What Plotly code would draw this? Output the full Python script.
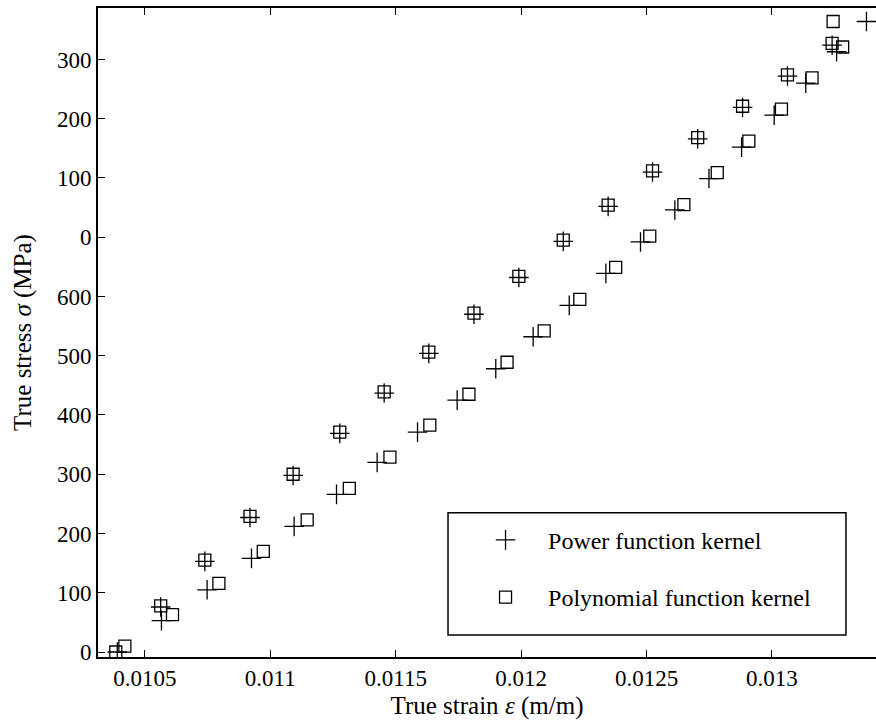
import plotly.graph_objects as go

# Power function kernel: loading branch then the lower branch (strain, stress in MPa)
power_strain = [
    0.010390, 0.010563, 0.010739, 0.010919, 0.011091, 0.011277, 0.011454, 0.011632,
    0.011812, 0.011991, 0.012168, 0.012347, 0.012524, 0.012704, 0.012883, 0.013062, 0.013240,
    0.010566, 0.010748, 0.010925, 0.011095, 0.011264, 0.011426, 0.011587, 0.011745,
    0.011899, 0.012048, 0.012192, 0.012338, 0.012476, 0.012613, 0.012749, 0.012879,
    0.013009, 0.013135, 0.013258, 0.013377,
]
power_stress = [
    0, 76, 153, 227, 298, 369, 437, 504,
    570, 632, 693, 752, 810, 866, 919, 972, 1024,
    53, 105, 158, 212, 266, 320, 371, 425,
    478, 532, 585, 639, 692, 746, 799, 852,
    906, 960, 1013, 1064,
]

# Polynomial function kernel
poly_strain = [
    0.010384, 0.010563, 0.010739, 0.010919, 0.011091, 0.011277, 0.011454, 0.011632,
    0.011812, 0.011991, 0.012168, 0.012347, 0.012524, 0.012704, 0.012883, 0.013062, 0.013240,
    0.013244,
    0.010420, 0.010610, 0.010795, 0.010972, 0.011147, 0.011315, 0.011477, 0.011636,
    0.011792, 0.011944, 0.012092, 0.012234, 0.012377, 0.012513, 0.012649, 0.012782,
    0.012908, 0.013038, 0.013160, 0.013282,
]
poly_stress = [
    0, 78, 155, 229, 300, 371, 439, 506,
    572, 634, 695, 754, 812, 868, 921, 974, 1027,
    1064,
    10, 63, 116, 170, 223, 276, 329, 383,
    435, 489, 542, 595, 649, 702, 755, 809,
    862, 916, 969, 1021,
]

x_ticks = [0.0105, 0.011, 0.0115, 0.012, 0.0125, 0.013]
x_tick_text = ["0.0105", "0.011", "0.0115", "0.012", "0.0125", "0.013"]
y_ticks = [0, 100, 200, 300, 400, 500, 600, 700, 800, 900, 1000]
y_tick_text = ["0", "100", "200", "300", "400", "500", "600", "0", "100", "200", "300"]

FONT = "Liberation Serif"

fig = go.Figure()
fig.add_trace(go.Scatter(
    x=power_strain, y=power_stress, mode="markers", name="Power function kernel",
    legendgroup="power",
    marker=dict(symbol="cross-thin-open", size=14, color="black",
                line=dict(color="black", width=1.3)),
))
fig.add_trace(go.Scatter(
    x=poly_strain, y=poly_stress, mode="markers", name="Polynomial function kernel",
    legendgroup="poly",
    marker=dict(symbol="square-open", size=12, color="black",
                line=dict(color="#222222", width=1.3)),
))

# legend frame
fig.add_shape(type="rect", xref="paper", yref="paper",
              x0=0.4499, x1=0.9614, y0=0.0339, y1=0.2223,
              line=dict(color="black", width=1.5), fillcolor="rgba(0,0,0,0)")

fig.update_layout(
    width=876, height=727,
    margin=dict(l=98, r=0, t=8, b=70),
    paper_bgcolor="white", plot_bgcolor="white",
    font=dict(family=FONT, size=23, color="black"),
    showlegend=True,
    legend=dict(x=0.4692, y=0.2145, xanchor="left", yanchor="top",
                bgcolor="rgba(0,0,0,0)", borderwidth=0,
                itemwidth=75, tracegroupgap=23,
                font=dict(family=FONT, size=24, color="black")),
    xaxis=dict(
        range=[0.010313, 0.013415], tickvals=x_ticks, ticktext=x_tick_text,
        ticks="inside", ticklen=7, tickwidth=1.2, tickcolor="black",
        showline=True, linecolor="black", linewidth=1.6, mirror="ticks",
        showgrid=False, zeroline=False,
        title=dict(text="True strain <i>ε</i> (m/m)", standoff=6,
                   font=dict(family=FONT, size=25)),
        tickfont=dict(family=FONT, size=23),
    ),
    yaxis=dict(
        range=[-8.4, 1086.8], tickvals=y_ticks, ticktext=y_tick_text,
        ticks="inside", ticklen=7, tickwidth=1.2, tickcolor="black",
        showline=True, linecolor="black", linewidth=1.6, mirror=False,
        showgrid=False, zeroline=False,
        title=dict(text="True stress <i>σ</i> (MPa)", standoff=18,
                   font=dict(family=FONT, size=25)),
        tickfont=dict(family=FONT, size=23),
    ),
)

fig.write_html("out.html")
